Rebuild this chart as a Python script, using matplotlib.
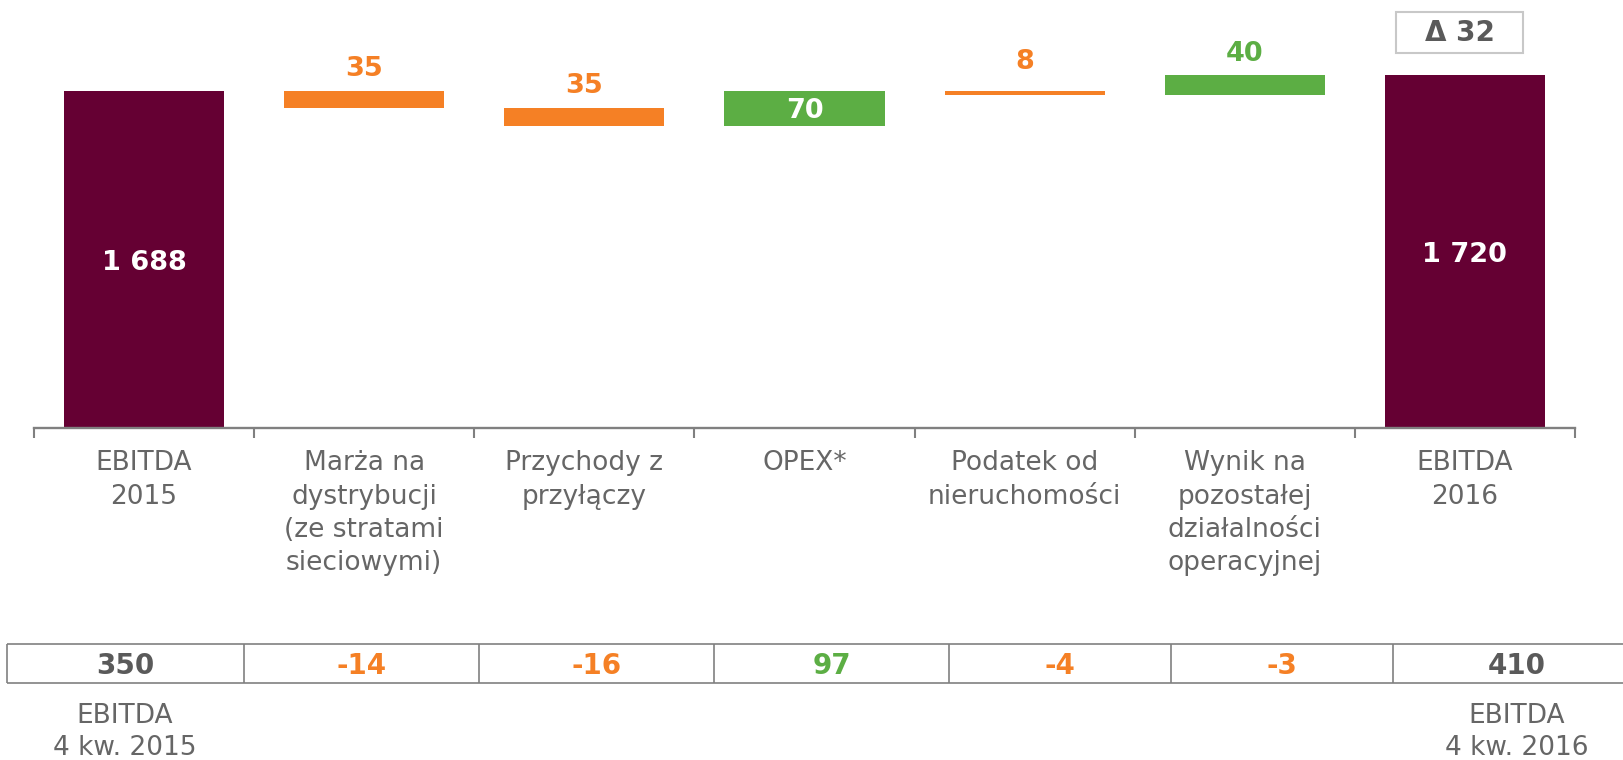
import numpy as np
import matplotlib
matplotlib.use("Agg")
import matplotlib.pyplot as plt
from matplotlib.patches import Rectangle

plt.rcParams["font.family"] = ["DejaVu Sans"]

# dane
categories = ["EBITDA\n2015", "Marża na\ndystrybucji\n(ze stratami\nsieciowymi)",
              "Przychody z\nprzyłączy", "OPEX*", "Podatek od\nnieruchomości",
              "Wynik na\npozostałej\ndziałalności\noperacyjnej", "EBITDA\n2016"]
start_value = 1688
deltas = [-35, -35, 70, -8, 40]
end_value = 1720
q4_values = [350, -14, -16, 97, -4, -3, 410]
q4_labels = ["EBITDA\n4 kw. 2015", "EBITDA\n4 kw. 2016"]

MAROON = "#650033"
ORANGE = "#F58025"
GREEN = "#5CAE44"
GRAY_TXT = "#666666"
DARK_TXT = "#5A5A5A"
LINE = "#808080"

W, H = 1623, 760
fig = plt.figure(figsize=(W / 100, H / 100), dpi=100)

# wykres glowny
ax = fig.add_axes([34 / W, (H - 428) / H, (1575 - 34) / W, 428 / H])
ax.set_xlim(-0.5, 6.5)
ax.set_ylim(1013, 1013 + 428 / 0.5)
ax.patch.set_visible(False)

x = np.arange(len(categories))
bw = 160 / 220

ax.bar(x[0], start_value, width=bw, color=MAROON)
ax.bar(x[-1], end_value, width=bw, color=MAROON)

level = start_value
for i, d in enumerate(deltas, start=1):
    lo, hi = sorted([level, level + d])
    col = GREEN if d > 0 else ORANGE
    ax.bar(x[i], hi - lo, bottom=lo, width=bw, color=col)
    mid = (lo + hi) / 2
    if abs(d) >= 60:
        ax.annotate(f"{abs(d)}", (x[i], mid), xytext=(0, -7.5), textcoords="offset points",
                    ha="center", va="baseline", color="white", fontsize=19.5, fontweight="bold")
    else:
        ax.annotate(f"{abs(d)}", (x[i], mid), xytext=(0, 17), textcoords="offset points",
                    ha="center", va="baseline", color=col, fontsize=19.5, fontweight="bold")
    level += d

for xi, v in [(x[0], start_value), (x[-1], end_value)]:
    mid = (1013 + v) / 2
    ax.annotate(f"{v:,}".replace(",", " "), (xi, mid), xytext=(0, -7.5), textcoords="offset points",
                ha="center", va="baseline", color="white", fontsize=19.5, fontweight="bold")

for s in ["top", "left", "right"]:
    ax.spines[s].set_visible(False)
ax.spines["bottom"].set_color(LINE)
ax.spines["bottom"].set_linewidth(1.7)
ax.set_yticks([])
ax.set_xticks(np.arange(-0.5, 7, 1))
ax.set_xticklabels([])
ax.tick_params(axis="x", length=7, width=1.5, color=LINE)

for xi, lab in zip(x, categories):
    ax.annotate(lab, (xi, 0), xycoords=("data", "axes fraction"), xytext=(0, -16),
                textcoords="offset points", ha="center", va="top", color=GRAY_TXT,
                fontsize=19, linespacing=1.37)

# nakladka w pikselach: tabela 4 kw. i ramka delta
ov = fig.add_axes([0, 0, 1, 1], zorder=-1)
ov.set_xlim(0, W)
ov.set_ylim(H, 0)
ov.axis("off")

delta = end_value - start_value
ov.add_patch(Rectangle((1396, 12), 127, 41, fill=False, edgecolor="#C8C8C8", lw=1.5))
ov.text(1460, 33, f"Δ {delta}", ha="center", va="center", color=DARK_TXT,
        fontsize=20, fontweight="bold")

edges = [7, 244, 479, 714, 949, 1171, 1393, 1641]
top, bot = 644, 683
ov.hlines([top, bot], edges[0], W, color=LINE, lw=1.2)
ov.vlines(edges[:-1], top, bot, color=LINE, lw=1.2)
for i, v in enumerate(q4_values):
    cx = (edges[i] + edges[i + 1]) / 2
    if i in (0, len(q4_values) - 1):
        col = DARK_TXT
    else:
        col = GREEN if v > 0 else ORANGE
    ov.text(cx, (top + bot) / 2 + 3, f"{v}", ha="center", va="center", color=col,
            fontsize=20, fontweight="bold")

for cx, lab in zip([125, 1517], q4_labels):
    ov.text(cx, 703, lab, ha="center", va="top", color=GRAY_TXT, fontsize=19, linespacing=1.3)

fig.savefig("out.png", dpi=100)
